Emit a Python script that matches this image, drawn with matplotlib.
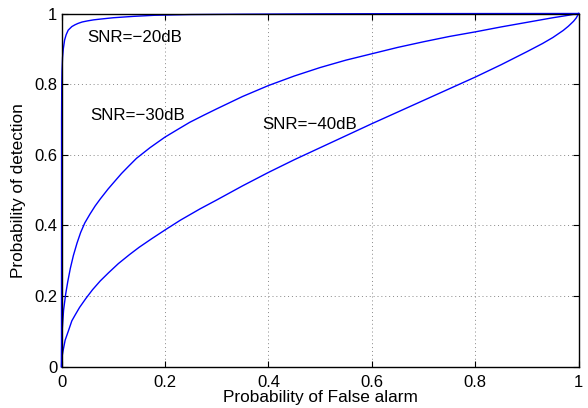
import matplotlib
matplotlib.use("Agg")
import matplotlib.pyplot as plt

plt.rcParams['font.family'] = ['Liberation Sans', 'DejaVu Sans']

# Read-off points (Probability of False alarm, Probability of detection)
pf_20 = [0.0, 0.0001, 0.0005, 0.001, 0.002, 0.0035, 0.006, 0.009, 0.013, 0.02,
         0.026, 0.032, 0.04, 0.05, 0.062, 0.074, 0.1, 0.14, 0.18, 0.25, 0.35, 0.5, 0.7, 1.0]
pd_20 = [0.0, 0.70, 0.80, 0.84, 0.875, 0.90, 0.925, 0.94, 0.953, 0.963,
         0.968, 0.972, 0.976, 0.979, 0.982, 0.984, 0.988, 0.992, 0.995, 0.997, 0.998, 0.999, 0.9997, 1.0]

pf_30 = [0.0, 0.0002, 0.0005, 0.0016, 0.004, 0.008, 0.012, 0.017, 0.023, 0.03, 0.037, 0.045,
         0.055, 0.065, 0.075, 0.09, 0.1, 0.116, 0.13, 0.145, 0.171, 0.2, 0.225, 0.248, 0.275, 0.3,
         0.35, 0.4, 0.45, 0.5, 0.55, 0.6, 0.65, 0.7, 0.75,
         0.8, 0.85, 0.9, 0.95, 0.98, 1.0]
pd_30 = [0.0, 0.045, 0.07, 0.11, 0.16, 0.205, 0.24, 0.278, 0.315, 0.35, 0.38, 0.407,
         0.432, 0.455, 0.475, 0.503, 0.52, 0.547, 0.568, 0.59, 0.62, 0.65, 0.672, 0.692, 0.712, 0.73,
         0.765, 0.796, 0.823, 0.847, 0.868, 0.886, 0.904, 0.92, 0.935,
         0.948, 0.962, 0.975, 0.988, 0.995, 1.0]

pf_40 = [0.0, 0.0005, 0.001, 0.003, 0.007, 0.013, 0.02, 0.027, 0.035, 0.047, 0.06, 0.075,
         0.091, 0.11, 0.132, 0.15, 0.174, 0.2, 0.23, 0.268, 0.3, 0.35, 0.4, 0.45, 0.5, 0.55,
         0.6, 0.65, 0.7, 0.75, 0.8, 0.85,
         0.9, 0.93, 0.95, 0.97, 0.98, 0.99, 0.995, 1.0]
pd_40 = [0.0, 0.02, 0.028, 0.045, 0.075, 0.10, 0.13, 0.148, 0.168, 0.193, 0.218, 0.243,
         0.266, 0.292, 0.318, 0.338, 0.362, 0.387, 0.415, 0.447, 0.472, 0.512, 0.55, 0.586, 0.62, 0.654,
         0.688, 0.721, 0.754, 0.787, 0.82, 0.855,
         0.892, 0.915, 0.932, 0.952, 0.964, 0.978, 0.987, 1.0]

labels = ['SNR=\u221220dB', 'SNR=\u221230dB', 'SNR=\u221240dB']
label_pos = [(0.049, 0.933), (0.056, 0.71), (0.389, 0.687)]

xticks = [0, 0.2, 0.4, 0.6, 0.8, 1]
yticks = [0, 0.2, 0.4, 0.6, 0.8, 1]
tick_labels = ['0', '0.2', '0.4', '0.6', '0.8', '1']

fig = plt.figure(figsize=(5.88, 4.08), dpi=100)
ax = fig.add_axes([0.1046, 0.1012, 0.8796, 0.8657])

for pf, pd in [(pf_20, pd_20), (pf_30, pd_30), (pf_40, pd_40)]:
    ax.plot(pf, pd, color=(0, 0, 1), lw=1.0, clip_on=False, zorder=3)

for lab, (x, y) in zip(labels, label_pos):
    ax.text(x, y, lab, fontsize=12.2, ha='left', va='center', color='black')

ax.set_xlim(0, 1)
ax.set_ylim(0, 1)
ax.set_xticks(xticks)
ax.set_yticks(yticks)
ax.set_xticklabels(tick_labels)
ax.set_yticklabels(tick_labels)
ax.tick_params(direction='in', length=4, width=0.8, top=True, right=True,
               labelsize=12)
ax.tick_params(axis='x', pad=6)
ax.tick_params(axis='y', pad=3)
ax.grid(True, linestyle=(0, (1, 3)), color='#888888', linewidth=0.7)
for s in ax.spines.values():
    s.set_linewidth(1.0)
    s.set_zorder(4)

ax.set_xlabel('Probability of False alarm', fontsize=12.4, labelpad=0)
ax.set_ylabel('Probability of detection', fontsize=12.4, labelpad=6)

fig.savefig('out.png', dpi=100)
